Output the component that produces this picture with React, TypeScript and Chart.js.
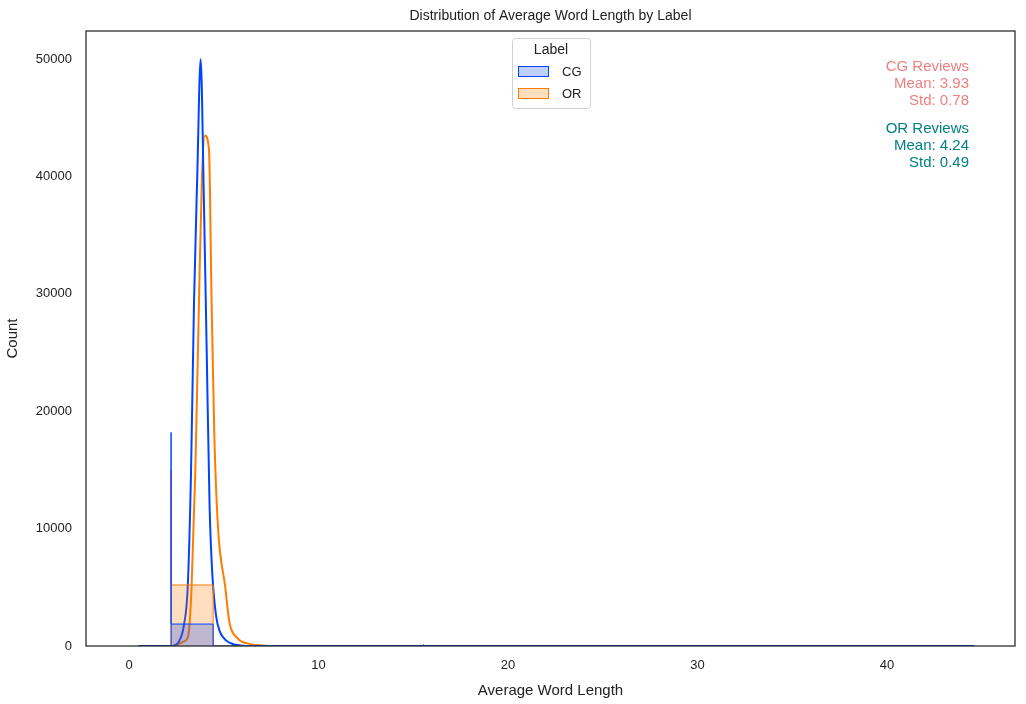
import { useEffect, useRef } from 'react';
import Chart from 'chart.js/auto';

const binEdges = [2.22, 4.44, 6.66];
const cgCounts = [18200, 1870];
const orCounts = [15000, 5200];
const cgSmallBin = [15.54, 17.76];
const cgSmallCount = 120;

const cgKdeX = [0.5, 2.2, 2.6, 2.9, 3.1, 3.27, 3.43, 3.6, 3.78, 3.95, 4.1, 4.25, 4.4, 4.6, 4.8, 5.1, 5.5, 6.0, 7.0, 10, 20, 30, 44.6];
const cgKdeY = [0, 0, 300, 1800, 5100, 14700, 29300, 40000, 50000, 38000, 25000, 12000, 6000, 2500, 1200, 500, 150, 30, 0, 0, 0, 0, 0];
const orKdeX = [0.5, 2.3, 2.9, 3.13, 3.3, 3.5, 3.7, 3.85, 4.0, 4.22, 4.35, 4.5, 4.7, 5.07, 5.3, 5.7, 6.3, 7.0, 8.0, 10];
const orKdeY = [0, 0, 400, 900, 5000, 15000, 30000, 40000, 43500, 42300, 30000, 18000, 10000, 5100, 2000, 700, 200, 50, 0, 0];

const annotations = [
  { lines: ['CG Reviews', 'Mean: 3.93', 'Std: 0.78'], color: '#f08080', y: 67 },
  { lines: ['OR Reviews', 'Mean: 4.24', 'Std: 0.49'], color: '#008080', y: 129 },
];

const FONT = '"Liberation Sans", Arial, sans-serif';
const CG = '#0044ff';
const OR = '#ff7c00';

function stepPoints(edges: number[], counts: number[]) {
  const pts = [{ x: edges[0], y: 0 }];
  counts.forEach((c, i) => pts.push({ x: edges[i], y: c }));
  pts.push({ x: edges[edges.length - 1], y: 0 });
  return pts;
}

const decor = {
  id: 'decor',
  afterDraw(chart: any) {
    const { ctx, chartArea: a } = chart;
    ctx.save();
    ctx.strokeStyle = '#262626';
    ctx.lineWidth = 1.25;
    ctx.strokeRect(a.left, a.top, a.right - a.left, a.bottom - a.top);
    ctx.fillStyle = '#222';
    ctx.font = `14px ${FONT}`;
    ctx.textAlign = 'center';
    ctx.textBaseline = 'middle';
    ctx.fillText('Distribution of Average Word Length by Label', (a.left + a.right) / 2, 16);
    ctx.font = `15px ${FONT}`;
    ctx.textAlign = 'right';
    annotations.forEach((g) => {
      ctx.fillStyle = g.color;
      g.lines.forEach((l, i) => ctx.fillText(l, 969, g.y + i * 17));
    });
    // legend
    ctx.fillStyle = 'rgba(255,255,255,0.85)';
    ctx.strokeStyle = '#d0d0d0';
    ctx.lineWidth = 1;
    ctx.beginPath();
    ctx.roundRect(512.5, 38.5, 78, 70, 3);
    ctx.fill();
    ctx.stroke();
    ctx.fillStyle = '#222';
    ctx.textAlign = 'center';
    ctx.font = `14px ${FONT}`;
    ctx.fillText('Label', 551, 50);
    const items = [
      { t: 'CG', c: CG, f: 'rgba(0,68,255,0.25)', y: 72 },
      { t: 'OR', c: OR, f: 'rgba(255,124,0,0.25)', y: 94 },
    ];
    items.forEach((it) => {
      ctx.fillStyle = it.f;
      ctx.fillRect(518, it.y - 6, 31, 11);
      ctx.strokeStyle = it.c;
      ctx.strokeRect(518.5, it.y - 5.5, 30, 10);
      ctx.fillStyle = '#222';
      ctx.textAlign = 'left';
      ctx.font = `13px ${FONT}`;
      ctx.fillText(it.t, 562, it.y);
    });
    ctx.restore();
  },
};

export default function App() {
  const ref = useRef<HTMLCanvasElement>(null);
  useEffect(() => {
    document.body.style.margin = '0';
    const canvas = ref.current;
    if (!canvas) return;
    const chart = new Chart(canvas, {
      type: 'line',
      data: {
        datasets: [
          {
            data: stepPoints(binEdges, cgCounts),
            stepped: 'after',
            borderColor: CG,
            borderWidth: 1,
            backgroundColor: 'rgba(0,68,255,0.25)',
            fill: 'origin',
            pointRadius: 0,
          },
          {
            data: stepPoints(binEdges, orCounts),
            stepped: 'after',
            borderColor: OR,
            borderWidth: 1,
            backgroundColor: 'rgba(255,124,0,0.25)',
            fill: 'origin',
            pointRadius: 0,
          },
          {
            data: stepPoints(cgSmallBin, [cgSmallCount]),
            stepped: 'after',
            borderColor: CG,
            borderWidth: 1,
            backgroundColor: 'rgba(0,68,255,0.25)',
            fill: 'origin',
            pointRadius: 0,
          },
          {
            data: cgKdeX.map((x, i) => ({ x, y: cgKdeY[i] })),
            borderColor: CG,
            borderWidth: 2,
            pointRadius: 0,
            tension: 0.3,
            cubicInterpolationMode: 'monotone',
          },
          {
            data: orKdeX.map((x, i) => ({ x, y: orKdeY[i] })),
            borderColor: OR,
            borderWidth: 2,
            pointRadius: 0,
            cubicInterpolationMode: 'monotone',
          },
        ],
      },
      options: {
        animation: false,
        responsive: false,
        layout: { padding: { top: 31, right: 11, left: 0, bottom: 0 } },
        plugins: { legend: { display: false }, tooltip: { enabled: false } },
        scales: {
          x: {
            type: 'linear',
            min: -2.27,
            max: 46.75,
            grid: { display: false },
            border: { display: false },
            afterBuildTicks: (s: any) => {
              s.ticks = [0, 10, 20, 30, 40].map((v) => ({ value: v }));
            },
            afterFit: (s: any) => {
              s.height = 58;
            },
            ticks: { color: '#222', font: { family: FONT, size: 13 }, padding: 4, maxRotation: 0 },
            title: { display: true, text: 'Average Word Length', color: '#222', font: { family: FONT, size: 15 }, padding: { top: 2 } },
          },
          y: {
            type: 'linear',
            min: 0,
            max: 52400,
            grid: { display: false },
            border: { display: false },
            afterBuildTicks: (s: any) => {
              s.ticks = [0, 10000, 20000, 30000, 40000, 50000].map((v) => ({ value: v }));
            },
            afterFit: (s: any) => {
              s.width = 86;
            },
            ticks: { color: '#222', font: { family: FONT, size: 13 }, padding: 6, callback: (v: any) => String(v) },
            title: { display: true, text: 'Count', color: '#222', font: { family: FONT, size: 15 }, padding: { bottom: 2 } },
          },
        },
      },
      plugins: [decor],
    } as any);
    return () => chart.destroy();
  }, []);
  return (
    <div style={{ width: 1026, height: 704, background: '#fff' }}>
      <canvas ref={ref} width={1026} height={704} />
    </div>
  );
}
